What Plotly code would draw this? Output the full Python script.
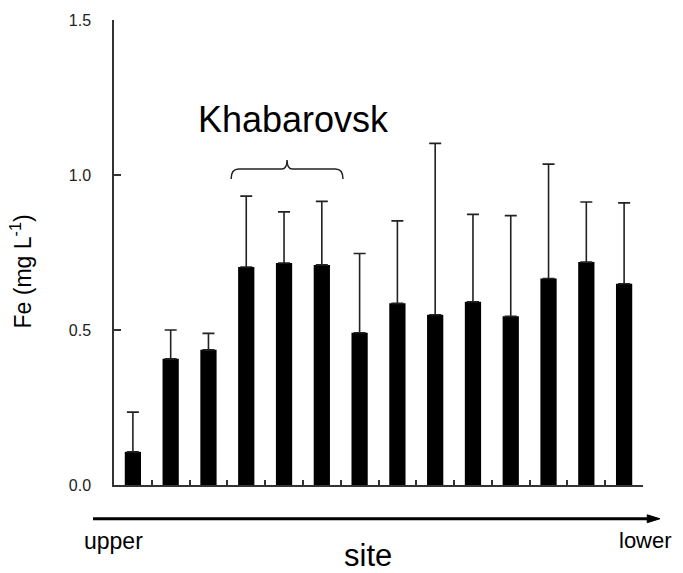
import plotly.graph_objects as go

# ---- data ----
sites = list(range(1, 15))
fe_mean = [0.107, 0.407, 0.436, 0.703, 0.716, 0.710, 0.491, 0.586, 0.549, 0.591, 0.544, 0.666, 0.719, 0.649]
fe_upper = [0.235, 0.500, 0.489, 0.932, 0.881, 0.915, 0.747, 0.852, 1.102, 0.873, 0.869, 1.035, 0.913, 0.910]
fe_err = [round(u - m, 3) for u, m in zip(fe_upper, fe_mean)]
y_ticks = [0.0, 0.5, 1.0, 1.5]
y_tick_labels = ["0.0", "0.5", "1.0", "1.5"]
x_boundaries = [s - 0.5 for s in sites] + [sites[-1] + 0.5]

FONT = "Liberation Sans, Arial, sans-serif"

fig = go.Figure()
fig.add_trace(go.Bar(
    x=sites, y=fe_mean, width=0.43,
    marker=dict(color="black", line=dict(width=0)),
    error_y=dict(type="data", symmetric=False, array=fe_err,
                 arrayminus=[0] * len(fe_err), color="#222222",
                 thickness=1.6, width=6),
    showlegend=False,
))

# curly brace over the Khabarovsk sites (data coordinates)
xl, xr, xc = 3.6, 6.56, 5.08
yb, ym, yt = 0.987, 1.019, 1.048
brace = (f"M {xl},{yb} Q {xl},{ym} {xl+0.2},{ym} L {xc-0.14},{ym} "
         f"Q {xc},{ym} {xc},{yt} Q {xc},{ym} {xc+0.14},{ym} "
         f"L {xr-0.2},{ym} Q {xr},{ym} {xr},{yb}")
fig.add_shape(type="path", path=brace, xref="x", yref="y",
              line=dict(color="#222222", width=1.5))

# upstream -> downstream arrow below the axis (paper coordinates)
ya = -0.0726
fig.add_shape(type="line", xref="paper", yref="paper",
              x0=-0.0397, x1=1.012, y0=ya, y1=ya,
              line=dict(color="black", width=3))
fig.add_shape(type="path", xref="paper", yref="paper",
              path=f"M 1.008,{ya+0.0085} L 1.032,{ya} L 1.008,{ya-0.0085} Z",
              fillcolor="black", line=dict(color="black", width=1))

annos = [
    dict(text="Khabarovsk", x=5.26, y=1.18, xref="x", yref="y",
         showarrow=False, font=dict(size=36, color="black", family=FONT)),
    dict(text="upper", x=-0.0605, y=-0.1197, xref="paper", yref="paper",
         xanchor="left", yanchor="middle", showarrow=False,
         font=dict(size=23, color="black", family=FONT)),
    dict(text="lower", x=1.0586, y=-0.1197, xref="paper", yref="paper",
         xanchor="right", yanchor="middle", showarrow=False,
         font=dict(size=22, color="black", family=FONT)),
    dict(text="site", x=0.480, y=-0.152, xref="paper", yref="paper",
         xanchor="center", yanchor="middle", showarrow=False,
         font=dict(size=31, color="black", family=FONT)),
    dict(text="Fe (mg L<sup>-1</sup>)", x=-0.176, y=0.459, xref="paper", yref="paper",
         xanchor="center", yanchor="middle", textangle=-90, showarrow=False,
         font=dict(size=23, color="black", family=FONT)),
]
for a in annos:
    fig.add_annotation(**a)

fig.update_layout(
    width=683, height=573,
    margin=dict(l=114, r=40, t=17, b=88, pad=0),
    paper_bgcolor="white", plot_bgcolor="white",
    font=dict(family=FONT, color="black"),
    bargap=0.57,
)
fig.update_yaxes(
    range=[0, 1.5], tickvals=y_ticks, ticktext=y_tick_labels,
    ticks="inside", ticklen=7, tickwidth=1.5, tickcolor="#333333",
    showline=True, linecolor="#333333", linewidth=1.5,
    showgrid=False, zeroline=False, ticklabelstandoff=18,
    tickfont=dict(size=16, color="#222222", family=FONT),
)
fig.update_xaxes(
    range=[0.5, 14.5], tickvals=x_boundaries, ticks="inside", ticklen=5,
    tickwidth=1.5, tickcolor="#333333", showticklabels=False,
    showline=True, linecolor="#333333", linewidth=1.5,
    showgrid=False, zeroline=False,
)

fig.write_html("out.html")
